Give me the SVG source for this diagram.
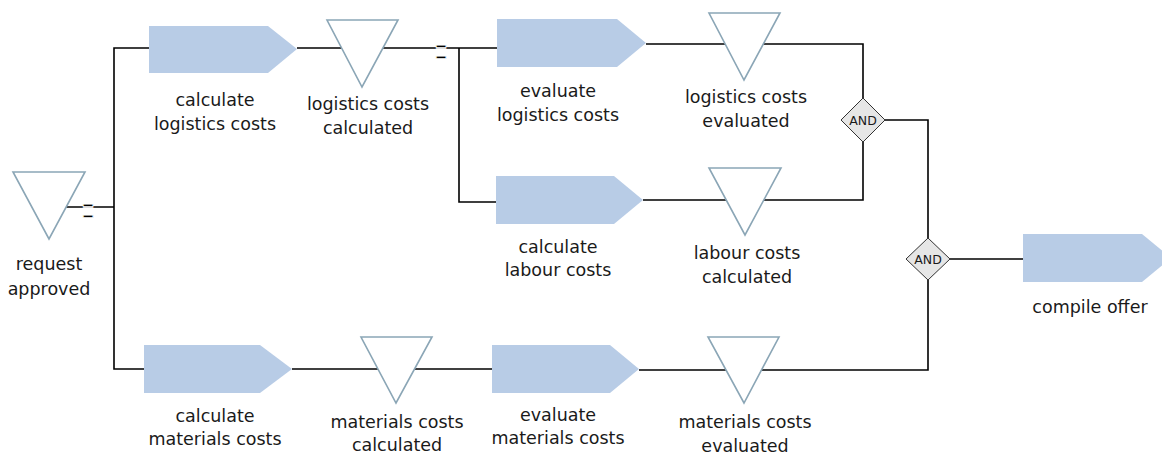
<svg xmlns="http://www.w3.org/2000/svg" width="1162" height="454" viewBox="0 0 1162 454">
<style>
.ev{fill:#ffffff;stroke:#8ba6b6;stroke-width:1.6}
.fn{fill:#b8cce6;stroke:none}
.gw{fill:#e6e6e6;stroke:#333333;stroke-width:1}
.ln{fill:none;stroke:#000000;stroke-width:1.6}
.lb{font-family:"DejaVu Sans",Verdana,sans-serif;font-size:17.5px;fill:#1a1a1a;text-anchor:middle}
.op{font-family:"Liberation Sans",Arial,sans-serif;font-size:20px;fill:#000;stroke:#ffffff;stroke-width:0.7px;text-anchor:middle}
.gt{font-family:"DejaVu Sans",sans-serif;font-size:12.5px;fill:#1a1a1a;text-anchor:middle}
</style>
<rect width="1162" height="454" fill="#ffffff"/>
<g id="connectors">
<polyline class="ln" points="66,207 114,207"/>
<polyline class="ln" points="149,48 114,48 114,369 144,369"/>
<polyline class="ln" points="297,48 497,48"/>
<polyline class="ln" points="459,48 459,202 496,202"/>
<polyline class="ln" points="646,44 863,44 863,98"/>
<polyline class="ln" points="643,200 863,200 863,142"/>
<polyline class="ln" points="885,120 928,120 928,238"/>
<polyline class="ln" points="292,369 492,369"/>
<polyline class="ln" points="639,370 928,370 928,280"/>
<polyline class="ln" points="950,259 1023,259"/>
<text class="op" transform="translate(88,207) scale(1,2.2)" x="0" y="8.5">=</text>
<text class="op" transform="translate(441,48) scale(1,2.2)" x="0" y="8.5">=</text>
</g>
<g id="request-approved">
<polygon class="ev" points="13,172 85,172 49,239"/>
<text class="lb" x="49" y="270">request</text>
<text class="lb" x="49" y="295">approved</text>
</g>
<g id="calculate-logistics-costs">
<polygon class="fn" points="149,26 268,26 297,49 268,73 149,73"/>
<text class="lb" x="215" y="106">calculate</text>
<text class="lb" x="215" y="130">logistics costs</text>
</g>
<g id="logistics-costs-calculated">
<polygon class="ev" points="327,20 398,20 362,87"/>
<text class="lb" x="368" y="110">logistics costs</text>
<text class="lb" x="368" y="134">calculated</text>
</g>
<g id="evaluate-logistics-costs">
<polygon class="fn" points="497,19 617,19 646,43 617,67 497,67"/>
<text class="lb" x="558" y="97">evaluate</text>
<text class="lb" x="558" y="121">logistics costs</text>
</g>
<g id="logistics-costs-evaluated">
<polygon class="ev" points="709,13 780,13 744,80"/>
<text class="lb" x="746" y="103">logistics costs</text>
<text class="lb" x="746" y="127">evaluated</text>
</g>
<g id="calculate-labour-costs">
<polygon class="fn" points="496,176 614,176 643,200 614,224 496,224"/>
<text class="lb" x="558" y="253">calculate</text>
<text class="lb" x="558" y="276">labour costs</text>
</g>
<g id="labour-costs-calculated">
<polygon class="ev" points="709,168 781,168 745,235"/>
<text class="lb" x="747" y="259">labour costs</text>
<text class="lb" x="747" y="283">calculated</text>
</g>
<g id="and-1">
<polygon class="gw" points="863,98 885,120 863,142 841,120"/>
<text class="gt" x="863" y="125">AND</text>
</g>
<g id="and-2">
<polygon class="gw" points="928,238 950,259 928,280 906,259"/>
<text class="gt" x="928" y="264">AND</text>
</g>
<g id="compile-offer">
<polygon class="fn" points="1023,234 1142,234 1171,258 1142,282 1023,282"/>
<text class="lb" x="1090" y="313">compile offer</text>
</g>
<g id="calculate-materials-costs">
<polygon class="fn" points="144,345 260,345 292,369 260,393 144,393"/>
<text class="lb" x="215" y="422">calculate</text>
<text class="lb" x="215" y="445">materials costs</text>
</g>
<g id="materials-costs-calculated">
<polygon class="ev" points="361,337 432,337 396,403"/>
<text class="lb" x="397" y="428">materials costs</text>
<text class="lb" x="397" y="451">calculated</text>
</g>
<g id="evaluate-materials-costs">
<polygon class="fn" points="492,345 610,345 639,369 610,393 492,393"/>
<text class="lb" x="558" y="421">evaluate</text>
<text class="lb" x="558" y="444">materials costs</text>
</g>
<g id="materials-costs-evaluated">
<polygon class="ev" points="708,337 779,337 744,403"/>
<text class="lb" x="745" y="428">materials costs</text>
<text class="lb" x="745" y="452">evaluated</text>
</g>
</svg>
